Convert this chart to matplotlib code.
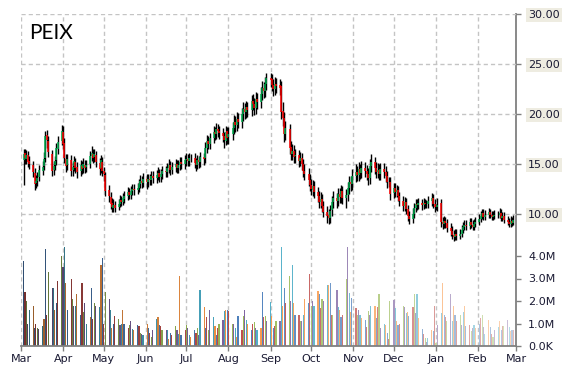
import numpy as np
import pandas as pd
import matplotlib
matplotlib.use("Agg")
import matplotlib.pyplot as plt
import matplotlib.dates as mdates
from matplotlib.colors import to_rgb

# --- daily data, Mar 2014 .. Feb 2015 (one line per month) ---
closes = [
    16.0, 15.6, 15.9, 15.2, 15.0, 14.2, 13.0, 13.3, 13.6, 14.4, 14.7, 15.5, 17.8, 17.4, 16.2, 14.3, 14.8, 15.3, 16.6, 17.2, 18.3,
    17.0, 15.6, 14.8, 15.5, 14.3, 14.7, 15.3, 14.6, 14.2, 14.9, 14.5, 15.0, 14.6, 14.9, 15.8, 16.1, 15.6, 16.0, 15.2, 14.5, 15.4, 14.3,
    14.0, 12.3, 11.8, 11.0, 10.7, 10.9, 10.6, 11.0, 11.4, 11.2, 11.6, 11.8, 12.2, 11.9, 12.3, 12.5, 12.4, 12.6, 13.0, 13.3, 13.1, 13.5,
    13.2, 13.5, 13.4, 13.8, 13.6, 13.9, 14.1, 13.7, 14.0, 14.3, 14.2, 14.6, 14.9, 14.4, 14.7, 15.0, 14.6, 14.9, 15.2, 15.0, 15.4,
    15.5, 15.3, 15.6, 15.6, 15.1, 14.9, 15.4, 15.2, 15.7, 15.5, 16.6, 17.3, 17.0, 17.6, 18.2, 18.0, 18.5, 18.3, 18.1, 17.8, 17.4, 18.2, 17.6,
    18.0, 18.6, 19.2, 18.9, 19.5, 19.2, 20.0, 20.5, 20.2, 20.7, 20.4, 21.3, 21.0, 20.6, 21.5, 21.2, 22.0, 22.6, 22.3, 23.0, 23.6,
    23.4, 22.9, 22.5, 23.0, 22.8, 22.6, 20.2, 19.6, 18.0, 18.6, 16.6, 16.0, 16.3, 15.7, 15.9, 15.3, 15.6, 15.0, 14.3, 14.0, 13.4, 12.9,
    12.5, 12.8, 12.2, 11.8, 11.2, 11.5, 10.8, 10.2, 9.8, 9.6, 10.3, 11.2, 11.6, 11.3, 12.0, 11.7, 12.3, 11.6, 11.9, 12.6, 13.2, 13.0, 13.8,
    14.2, 13.9, 14.5, 14.1, 14.6, 14.3, 14.0, 13.6, 14.8, 15.2, 14.6, 14.2, 14.4, 14.0, 14.5, 14.2, 13.8, 13.2, 13.2, 12.0,
    12.6, 12.2, 12.4, 11.8, 11.3, 10.8, 11.2, 10.5, 9.8, 9.5, 10.0, 10.6, 11.0, 10.9, 11.1, 10.9, 11.1, 11.0, 11.0, 11.3, 11.6, 11.0, 10.7,
    10.7, 10.9, 9.2, 9.0, 9.3, 9.1, 8.6, 8.3, 7.9, 7.7, 8.0, 7.8, 8.0, 8.4, 8.7, 8.9, 8.8, 9.2, 8.9, 8.7, 9.0, 9.2,
    9.5, 9.8, 10.1, 9.7, 9.9, 10.2, 9.9, 9.7, 9.8, 9.9, 9.9, 10.1, 9.6, 9.8, 9.4, 9.2, 9.0, 9.3, 9.1, 9.4,
]
opens = [
    15.4, 16.1, 15.5, 15.9, 15.3, 14.9, 14.1, 13.1, 13.3, 13.7, 14.3, 14.8, 15.6, 17.9, 17.3, 16.0, 14.4, 14.9, 15.4, 16.5, 17.3,
    18.2, 17.1, 15.5, 14.9, 15.4, 14.4, 14.8, 15.2, 14.7, 14.3, 14.8, 14.6, 14.9, 14.7, 15.0, 15.8, 16.0, 15.7, 15.9, 15.1, 14.6, 15.2,
    14.3, 13.9, 12.4, 11.7, 11.1, 10.6, 10.9, 10.7, 11.0, 11.4, 11.2, 11.5, 11.8, 12.2, 11.9, 12.3, 12.5, 12.4, 12.6, 13.0, 13.3, 13.1,
    13.5, 13.2, 13.5, 13.4, 13.8, 13.6, 13.9, 14.1, 13.7, 14.0, 14.3, 14.2, 14.6, 14.9, 14.4, 14.7, 15.0, 14.6, 14.9, 15.2, 15.0,
    15.4, 15.5, 15.3, 15.6, 15.6, 15.1, 14.9, 15.4, 15.2, 15.7, 15.6, 16.6, 17.3, 17.0, 17.6, 18.2, 18.0, 18.5, 18.3, 18.1, 17.8, 17.3, 18.3,
    17.7, 18.0, 18.6, 19.2, 18.9, 19.5, 19.2, 20.0, 20.5, 20.2, 20.7, 20.4, 21.3, 21.0, 20.6, 21.5, 21.2, 22.0, 22.6, 22.3, 23.0,
    23.6, 23.5, 22.9, 22.5, 23.0, 22.9, 22.8, 20.3, 19.6, 18.0, 18.5, 16.7, 16.0, 16.3, 15.8, 15.9, 15.3, 15.6, 15.0, 14.3, 14.0, 13.4,
    12.9, 12.4, 12.8, 12.2, 11.8, 11.2, 11.5, 10.8, 10.2, 9.9, 9.6, 10.4, 11.2, 11.6, 11.3, 12.0, 11.7, 12.3, 11.6, 11.9, 12.6, 13.2, 13.0,
    13.8, 14.2, 13.9, 14.5, 14.1, 14.6, 14.3, 14.0, 13.6, 14.8, 15.2, 14.6, 14.2, 14.4, 14.0, 14.5, 14.2, 13.8, 13.2, 13.2,
    12.1, 12.6, 12.2, 12.4, 11.8, 11.3, 10.8, 11.2, 10.5, 9.8, 9.5, 10.0, 10.6, 11.0, 10.9, 11.1, 10.9, 11.1, 11.0, 11.0, 11.3, 11.6, 11.0,
    10.7, 10.7, 11.1, 9.2, 9.0, 9.3, 9.1, 8.6, 8.3, 7.9, 7.7, 8.0, 7.8, 8.0, 8.4, 8.7, 8.9, 8.8, 9.2, 8.9, 8.7, 9.0,
    9.2, 9.5, 9.8, 10.1, 9.7, 9.9, 10.2, 9.9, 9.7, 9.8, 9.9, 9.9, 10.1, 9.6, 9.8, 9.4, 9.2, 9.0, 9.3, 9.1,
]
highs = [
    16.5, 16.5, 16.4, 16.3, 15.8, 15.3, 14.6, 13.9, 14.2, 14.9, 15.3, 16.2, 18.3, 18.4, 17.8, 16.4, 15.3, 15.8, 17.1, 17.8, 18.9,
    18.8, 17.6, 16.0, 16.0, 15.9, 15.2, 15.8, 15.6, 15.2, 15.4, 15.3, 15.6, 15.4, 15.4, 16.3, 16.8, 16.5, 16.5, 16.3, 15.6, 15.9, 15.7,
    14.7, 14.2, 12.9, 12.2, 11.6, 11.5, 11.3, 11.5, 11.9, 11.8, 12.1, 12.3, 12.7, 12.6, 12.8, 13.0, 13.0, 13.1, 13.5, 13.9, 13.8, 14.1,
    14.0, 14.0, 14.0, 14.3, 14.3, 14.4, 14.7, 14.5, 14.5, 14.8, 14.8, 15.1, 15.5, 15.3, 15.2, 15.5, 15.4, 15.4, 15.7, 15.7, 15.9,
    16.1, 16.0, 16.1, 16.0, 16.1, 15.6, 15.9, 15.8, 16.2, 16.1, 17.2, 17.9, 17.8, 18.1, 18.8, 18.7, 19.1, 19.0, 18.8, 18.6, 18.2, 18.8, 18.7,
    18.7, 19.2, 19.9, 19.8, 20.2, 20.1, 20.6, 21.2, 21.1, 21.3, 21.2, 21.9, 22.0, 21.6, 22.2, 22.1, 22.7, 23.3, 23.2, 23.7, 24.1,
    24.1, 24.0, 23.5, 23.7, 23.6, 23.5, 23.3, 21.2, 20.2, 19.3, 19.0, 17.3, 17.0, 16.9, 16.5, 16.4, 16.2, 16.1, 15.5, 15.0, 14.6, 14.0,
    13.5, 13.4, 13.3, 12.7, 12.3, 12.2, 12.0, 11.3, 10.8, 10.5, 10.9, 11.8, 12.3, 12.1, 12.6, 12.6, 12.9, 12.8, 12.5, 13.2, 13.8, 13.8, 14.5,
    15.0, 14.8, 15.2, 15.0, 15.3, 15.2, 14.9, 14.6, 15.5, 16.0, 15.7, 15.2, 15.1, 15.0, 15.1, 15.1, 14.8, 14.3, 13.7, 13.7,
    13.1, 13.1, 12.9, 12.8, 12.2, 11.8, 11.7, 11.6, 10.9, 10.3, 10.6, 11.1, 11.5, 11.5, 11.6, 11.5, 11.6, 11.5, 11.4, 11.8, 12.1, 12.0, 11.5,
    11.0, 11.6, 11.5, 9.7, 9.8, 9.7, 9.5, 9.1, 8.8, 8.4, 8.5, 8.5, 8.5, 8.9, 9.2, 9.4, 9.4, 9.6, 9.6, 9.4, 9.5, 9.7,
    10.0, 10.3, 10.5, 10.5, 10.4, 10.6, 10.5, 10.3, 10.3, 10.4, 10.3, 10.6, 10.5, 10.2, 10.2, 9.8, 9.6, 9.8, 9.7, 9.9,
]
lows = [
    12.9, 15.0, 15.0, 14.7, 14.5, 13.7, 12.4, 12.6, 12.8, 13.3, 13.9, 14.4, 15.2, 16.6, 15.7, 13.8, 13.9, 14.4, 14.9, 16.0, 16.9,
    16.5, 15.1, 14.2, 14.4, 13.8, 13.8, 14.3, 14.1, 13.6, 13.8, 14.0, 14.1, 14.1, 14.2, 14.6, 15.3, 15.1, 15.2, 14.7, 13.9, 14.1, 13.8,
    13.3, 11.8, 11.2, 10.5, 10.2, 10.2, 10.2, 10.4, 10.7, 10.8, 10.9, 11.1, 11.4, 11.5, 11.5, 11.9, 11.9, 12.0, 12.2, 12.6, 12.6, 12.7,
    12.5, 12.7, 12.9, 12.9, 13.1, 13.1, 13.4, 13.2, 13.2, 13.5, 13.7, 13.7, 14.1, 13.9, 14.0, 14.2, 14.1, 14.1, 14.4, 14.5, 14.5,
    14.8, 14.8, 14.8, 15.2, 14.6, 14.3, 14.5, 14.6, 14.7, 14.9, 15.1, 16.1, 16.5, 16.5, 17.1, 17.4, 17.5, 17.7, 17.5, 17.2, 16.6, 16.9, 17.0,
    17.0, 17.4, 18.0, 18.2, 18.3, 18.6, 18.6, 19.3, 19.5, 19.6, 19.7, 19.8, 20.4, 19.9, 20.0, 20.5, 20.6, 21.4, 21.6, 21.7, 22.4,
    22.7, 22.3, 21.8, 21.9, 22.1, 21.9, 19.5, 18.8, 17.2, 17.4, 16.0, 15.4, 15.4, 15.1, 15.1, 14.7, 14.8, 14.4, 13.7, 13.4, 12.8, 12.3,
    11.9, 11.8, 11.6, 11.2, 10.6, 10.6, 10.2, 9.7, 9.1, 9.0, 9.1, 9.8, 10.6, 10.6, 10.8, 11.1, 11.1, 11.0, 10.6, 11.3, 12.0, 12.3, 12.4,
    13.2, 13.3, 13.3, 13.5, 13.6, 13.7, 13.4, 12.9, 13.0, 14.2, 14.0, 13.6, 13.6, 13.4, 13.4, 13.6, 13.2, 12.6, 12.7, 11.4,
    11.6, 11.7, 11.7, 11.3, 10.8, 10.3, 10.3, 10.0, 9.3, 9.0, 9.1, 9.6, 10.2, 10.4, 10.5, 10.4, 10.5, 10.6, 10.6, 10.6, 10.8, 10.6, 10.2,
    10.4, 10.3, 8.7, 8.5, 8.6, 8.6, 8.2, 7.8, 7.5, 7.3, 7.4, 7.4, 7.5, 7.7, 8.1, 8.4, 8.4, 8.5, 8.6, 8.4, 8.4, 8.7,
    8.9, 9.2, 9.5, 9.4, 9.4, 9.6, 9.6, 9.4, 9.4, 9.5, 9.6, 9.6, 9.3, 9.3, 9.1, 8.9, 8.7, 8.7, 8.8, 8.9,
]
# volume in millions of shares
volumes = [
    3.8, 2.4, 2.0, 1.0, 1.6, 1.8, 0.8, 1.0, 0.8, 0.75, 0.9, 1.2, 4.3, 1.4, 3.3, 2.6, 2.6, 1.6, 1.9, 2.9, 4.0,
    3.5, 4.4, 2.8, 1.6, 3.0, 2.1, 1.8, 1.8, 2.3, 1.4, 2.8, 1.5, 1.9, 1.0, 1.3, 2.6, 1.2, 1.9, 1.8, 1.75, 3.6, 3.9,
    1.0, 2.4, 2.1, 1.6, 0.8, 1.0, 1.35, 1.2, 0.95, 1.0, 1.6, 1.0, 0.8, 0.95, 1.1, 0.75, 0.7, 0.95, 0.9, 0.6, 0.55, 0.5,
    1.0, 0.8, 0.6, 0.4, 0.7, 1.2, 1.3, 0.95, 0.9, 0.7, 0.7, 0.7, 0.3, 0.6, 0.5, 0.9, 0.7, 0.55, 3.1, 0.5, 0.7,
    0.95, 0.8, 0.5, 0.4, 0.7, 0.6, 0.8, 0.5, 2.5, 1.75, 0.8, 1.3, 0.7, 1.6, 1.3, 0.9, 0.5, 0.8, 1.0, 1.15, 1.55, 1.6, 1.6,
    1.55, 1.0, 1.0, 0.8, 0.4, 1.35, 0.7, 1.35, 1.6, 1.15, 1.0, 0.7, 1.0, 1.05, 0.8, 0.7, 0.8, 2.4, 1.3, 1.35, 1.1,
    1.95, 1.35, 0.8, 0.9, 1.1, 1.1, 4.4, 1.8, 2.6, 1.9, 3.1, 2.0, 3.6, 1.9, 1.4, 1.4, 1.1, 1.1, 1.4, 2.1, 1.9, 3.2,
    1.8, 2.0, 1.8, 2.45, 2.3, 1.7, 2.1, 2.0, 2.7, 2.7, 2.8, 1.4, 1.4, 2.5, 1.75, 1.6, 1.3, 1.4, 3.0, 4.4, 2.35, 1.5, 2.15,
    1.7, 1.4, 1.6, 1.4, 1.25, 1.15, 0.85, 1.55, 1.4, 1.8, 1.8, 1.25, 1.75, 2.3, 0.8, 1.0, 0.95, 0.6, 0.3, 2.0,
    2.05, 1.7, 1.1, 0.95, 1.0, 1.8, 1.75, 1.45, 1.5, 1.35, 1.75, 2.3, 1.45, 2.3, 1.25, 0.75, 0.55, 0.35, 0.2, 0.35, 0.7, 0.65, 1.8,
    0.15, 0.95, 1.45, 2.8, 1.4, 1.3, 1.1, 2.3, 1.1, 1.8, 1.4, 1.1, 1.4, 0.95, 1.5, 1.8, 0.9, 0.95, 0.65, 0.8, 0.95, 0.8,
    1.0, 1.25, 1.4, 0.85, 0.55, 1.15, 0.85, 0.55, 0.4, 0.7, 0.85, 1.1, 0.7, 0.9, 0.9, 1.15, 0.85, 0.65, 0.7, 0.7,
]
ticker = "PEIX"
price_ticks = [10, 15, 20, 25, 30]
volume_ticks = [0, 1, 2, 3, 4]
volume_labels = ["0.0K", "1.0M", "2.0M", "3.0M", "4.0M"]

dates = pd.bdate_range("2014-03-03", "2015-02-27")
x = mdates.date2num(dates.to_pydatetime())
o = np.array(opens); c = np.array(closes)
h = np.array(highs); l = np.array(lows)

# bar colours: office palette cycled, dark at the start, pale at the end
palette = ["#4F81BD", "#C0504D", "#9BBB59", "#8064A2", "#4BACC6", "#F79646"]
n = len(volumes)
vcols = []
for i in range(n):
    base = np.array(to_rgb(palette[i % 6]))
    t = i / (n - 1)
    if t < 0.45:
        col = base * (0.6 + 0.4 * t / 0.45)
    else:
        w = (t - 0.45) / 0.55 * 0.6
        col = base * (1 - w) + w
    vcols.append(tuple(np.clip(col, 0, 1)))

GRAY = "#808080"
TXT = "#1A1A33"
GRID = "#C4C4C4"
DASH = (0, (3, 2.2))

fig = plt.figure(figsize=(5.7, 3.7), dpi=100)
ax = fig.add_axes([21 / 570, 24 / 370, 495 / 570, 332 / 370])
ax2 = ax.twinx()

# volume
ax.bar(x, volumes, width=0.85, color=vcols, linewidth=0, antialiased=False, zorder=2)
ax.set_ylim(0, 332 / 22.5)
ax.set_yticks(volume_ticks)
ax.set_yticklabels(volume_labels)
ax.yaxis.tick_right()

# price candles
up = c >= o
body_cols = np.where(up, "#00B050", "#FF0000")
ax2.vlines(x, l, h, colors="black", linewidth=1.0, zorder=3)
ax2.vlines(x, o, c, colors=body_cols, linewidth=1.1, zorder=4)
ax2.set_ylim(-3.2, 30)
ax2.set_yticks(price_ticks)
ax2.set_yticklabels([f"{v:.2f}" for v in price_ticks])

ax.set_xlim(mdates.date2num(pd.Timestamp("2014-03-01")), mdates.date2num(pd.Timestamp("2015-03-01")))
ax.xaxis.set_major_locator(mdates.MonthLocator())
ax.xaxis.set_major_formatter(mdates.DateFormatter("%b"))

# grid
ax.grid(axis="x", color=GRID, linestyle=DASH, linewidth=1, zorder=0)
ax2.grid(axis="y", color=GRID, linestyle=DASH, linewidth=1)
ax.set_axisbelow(True)

for s in ["top", "left"]:
    ax.spines[s].set_visible(False)
for s in ["right", "bottom"]:
    ax.spines[s].set_color(GRAY)
    ax.spines[s].set_linewidth(1.3)
for s in ax2.spines.values():
    s.set_visible(False)

ax.tick_params(axis="x", length=3.6, width=1, color=GRAY, pad=2.5, labelsize=8, labelcolor=TXT)
ax.tick_params(axis="y", length=3.6, width=1, color=GRAY, pad=5, labelsize=8, labelcolor=TXT)
ax2.tick_params(axis="y", length=3.6, width=1, color=GRAY, pad=5, labelsize=8, labelcolor=TXT)
for lab in ax2.get_yticklabels():
    lab.set_bbox(dict(facecolor="#EEECE1", edgecolor="none", pad=1.5))

fig.text(29 / 570, 1 - 39 / 370, ticker, fontsize=15, family="Lato", color="black", va="baseline")

fig.savefig("out.png", dpi=100)
